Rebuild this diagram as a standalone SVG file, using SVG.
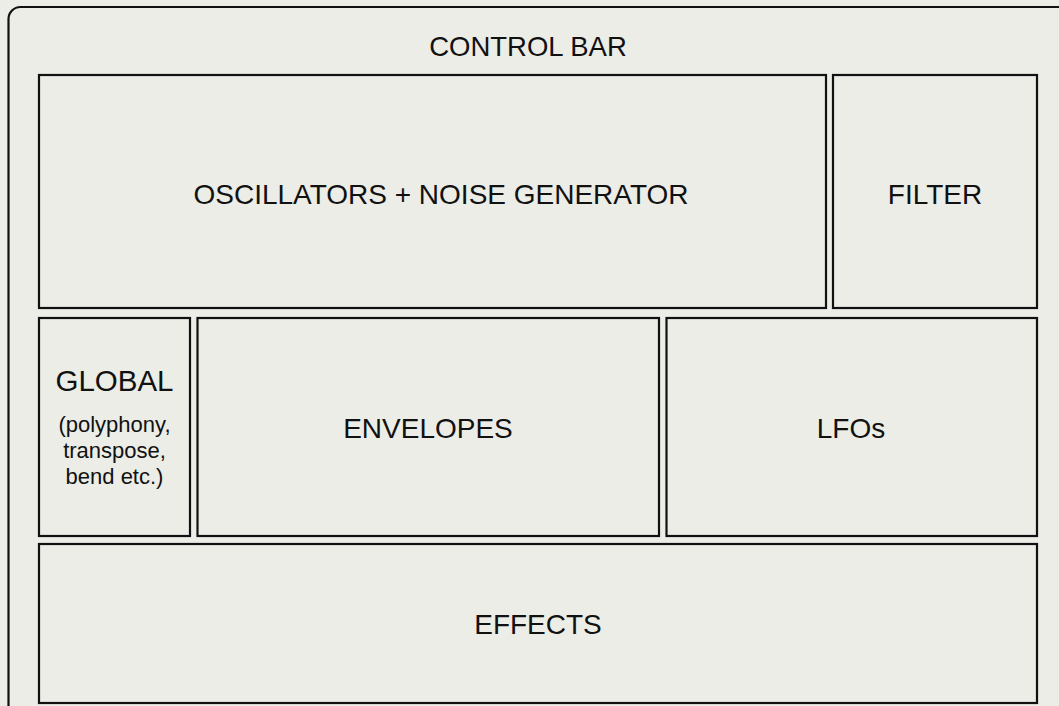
<svg xmlns="http://www.w3.org/2000/svg" width="1059" height="706" viewBox="0 0 1059 706">
<style>
.box{fill:#ECEDE7;stroke:#111;stroke-width:2.2}
.t{font-family:"Liberation Sans",Arial,sans-serif;font-size:28px;fill:#111;text-anchor:middle}
.s{font-family:"Liberation Sans",Arial,sans-serif;font-size:22px;fill:#111;text-anchor:middle}
</style>
<rect x="0" y="0" width="1059" height="706" fill="#ECEDE7"/>
<g id="panel">
<rect x="8.5" y="7" width="1070" height="720" rx="12" class="box"/>
<text x="528" y="56" class="t" style="font-size:27.5px">CONTROL BAR</text>
</g>
<g id="oscillators">
<rect x="39" y="75" width="787" height="233" class="box"/>
<text x="441" y="204" class="t">OSCILLATORS + NOISE GENERATOR</text>
</g>
<g id="filter">
<rect x="833" y="75" width="204" height="233" class="box"/>
<text x="935" y="204" class="t">FILTER</text>
</g>
<g id="global">
<rect x="39" y="318" width="151" height="218" class="box"/>
<text x="114.5" y="391" class="t" style="font-size:29.5px">GLOBAL</text>
<text x="114.5" y="432" class="s">(polyphony,</text>
<text x="114.5" y="458" class="s">transpose,</text>
<text x="114.5" y="484" class="s">bend etc.)</text>
</g>
<g id="envelopes">
<rect x="197.5" y="318" width="461.5" height="218" class="box"/>
<text x="428" y="438" class="t">ENVELOPES</text>
</g>
<g id="lfos">
<rect x="666.5" y="318" width="370.5" height="218" class="box"/>
<text x="851" y="438" class="t">LFOs</text>
</g>
<g id="effects">
<rect x="39" y="544" width="998" height="159" class="box"/>
<text x="538" y="634" class="t">EFFECTS</text>
</g>
<g id="connectors"/>
</svg>
